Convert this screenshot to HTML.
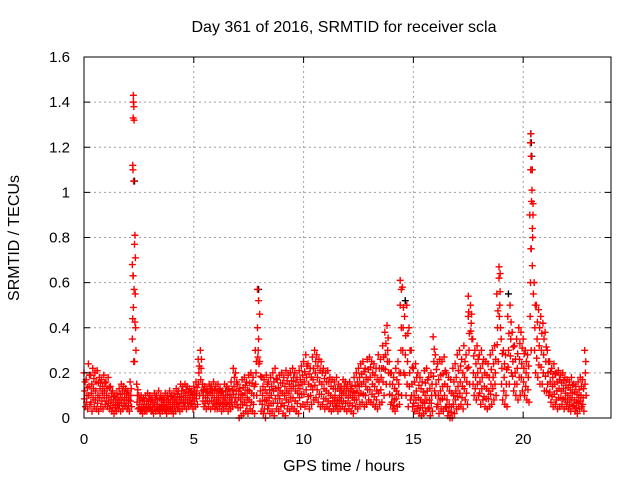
<!DOCTYPE html>
<html><head><meta charset="utf-8"><style>
body{margin:0;background:#fff;}
svg{display:block;font-family:"Liberation Sans",sans-serif;}
</style></head><body>
<svg id="chart" width="640" height="480">
<text x="344" y="32" font-size="16" text-anchor="middle" fill="#000">Day 361 of 2016, SRMTID for receiver scla</text>
<text x="0" y="0" font-size="16" text-anchor="middle" transform="translate(19,238) rotate(-90)">SRMTID / TECUs</text>
<text x="344" y="471" font-size="16" text-anchor="middle">GPS time / hours</text>
<g id="grid"></g><g id="pts"></g><g id="axes"></g>
</svg>
<script>
const xTicks=[0,5,10,15,20];
const yTicks=[0,0.2,0.4,0.6,0.8,1,1.2,1.4,1.6];
const yTickLabels=["0","0.2","0.4","0.6","0.8","1","1.2","1.4","1.6"];
const binStart=0, binStep=0.1;
const hiVals=[.20,.17,.24,.19,.22,.20,.21,.18,.17,.19,.16,.18,.14,.12,.10,.11,.13,.15,.14,.13,.12,.16,.35,.25,.15,.10,.10,.09,.10,.11,.10,.09,.11,.10,.12,.10,.09,.11,.10,.12,.10,.11,.13,.12,.15,.14,.15,.14,.13,.12,.14,.16,.26,.30,.15,.14,.13,.15,.14,.16,.14,.15,.13,.12,.15,.14,.13,.16,.22,.20,.15,.13,.17,.18,.16,.19,.20,.18,.30,.40,.25,.18,.17,.19,.16,.18,.20,.22,.17,.19,.20,.18,.21,.19,.20,.22,.20,.18,.21,.23,.25,.28,.24,.22,.27,.30,.28,.26,.25,.22,.20,.21,.18,.17,.16,.18,.15,.14,.17,.16,.15,.16,.14,.18,.20,.22,.24,.25,.22,.26,.27,.25,.24,.22,.28,.26,.32,.38,.41,.25,.20,.18,.22,.25,.50,.58,.45,.50,.40,.30,.22,.24,.20,.18,.16,.21,.22,.18,.20,.36,.28,.24,.26,.25,.27,.20,.18,.17,.22,.24,.28,.30,.26,.32,.28,.45,.50,.35,.30,.32,.28,.30,.26,.25,.24,.28,.30,.32,.55,.62,.35,.30,.28,.45,.50,.38,.32,.35,.40,.38,.35,.30,.28,.90,1.10,.60,.50,.48,.45,.42,.38,.30,.25,.22,.24,.20,.21,.19,.20,.18,.17,.16,.18,.15,.14,.16,.18,.17,.30];
const midVals=[.12,.10,.14,.11,.13,.12,.10,.13,.11,.12,.10,.09,.08,.07,.06,.07,.08,.09,.08,.09,.08,.10,.63,.55,.10,.06,.05,.06,.05,.06,.06,.05,.07,.06,.05,.06,.07,.05,.06,.07,.06,.07,.08,.07,.09,.08,.10,.09,.10,.09,.10,.11,.20,.22,.10,.09,.10,.11,.10,.09,.08,.09,.10,.08,.09,.10,.08,.09,.14,.12,.09,.08,.10,.11,.09,.12,.11,.10,.20,.30,.12,.10,.08,.11,.09,.10,.12,.13,.10,.12,.11,.10,.12,.11,.13,.14,.12,.11,.13,.15,.16,.18,.15,.14,.17,.20,.18,.16,.15,.13,.12,.11,.10,.09,.10,.08,.09,.10,.11,.10,.09,.10,.09,.11,.12,.14,.15,.16,.14,.17,.18,.15,.14,.12,.16,.18,.22,.28,.30,.15,.10,.08,.12,.15,.30,.40,.28,.25,.20,.15,.10,.12,.09,.08,.07,.10,.12,.08,.10,.25,.15,.10,.12,.14,.15,.08,.06,.05,.10,.12,.14,.16,.14,.18,.16,.30,.42,.20,.18,.20,.16,.18,.14,.13,.12,.15,.18,.20,.40,.50,.22,.18,.15,.30,.35,.25,.20,.22,.26,.24,.22,.20,.18,.60,.80,.40,.35,.32,.30,.28,.25,.20,.16,.14,.15,.12,.13,.12,.13,.11,.10,.09,.11,.08,.07,.09,.10,.09,.20];
const loVals=[.05,.04,.06,.03,.05,.04,.03,.05,.04,.06,.05,.04,.03,.02,.03,.04,.03,.04,.05,.04,.03,.05,.25,.30,.04,.03,.02,.03,.03,.04,.03,.02,.03,.04,.02,.03,.04,.02,.03,.03,.02,.03,.04,.03,.04,.05,.04,.05,.06,.04,.05,.06,.10,.12,.05,.04,.05,.04,.05,.04,.04,.05,.03,.04,.05,.03,.04,.05,.07,.06,.00,.01,.02,.03,.02,.04,.03,.02,.10,.24,.03,.02,.00,.04,.02,.03,.01,.04,.03,.05,.02,.01,.04,.03,.05,.04,.03,.02,.05,.06,.05,.07,.04,.06,.08,.09,.07,.05,.06,.04,.05,.04,.03,.04,.05,.03,.04,.05,.04,.03,.04,.03,.02,.05,.04,.06,.07,.05,.06,.08,.07,.06,.05,.04,.06,.07,.10,.15,.20,.06,.04,.03,.05,.06,.10,.20,.10,.05,.08,.05,.03,.04,.02,.01,.02,.03,.04,.01,.03,.12,.05,.02,.04,.03,.05,.01,.00,.00,.02,.04,.05,.06,.04,.08,.06,.15,.35,.10,.08,.10,.06,.08,.05,.04,.05,.06,.08,.10,.25,.40,.08,.06,.05,.15,.20,.12,.10,.08,.10,.12,.10,.08,.07,.30,.55,.20,.18,.15,.15,.12,.12,.10,.07,.05,.06,.04,.05,.06,.04,.05,.04,.03,.05,.03,.02,.04,.05,.03,.10];
const spikeTimes=[2.25,2.25,2.27,2.24,2.28,2.22,2.23,2.26,2.32,2.3,2.34,2.2,2.24,2.28,20.35,20.33,20.36,20.34,20.4,20.38,20.45,20.42,20.37,14.4,14.45,7.9,7.95,8.0,18.9,18.95,17.5,17.52];
const spikeVals=[1.43,1.40,1.38,1.33,1.32,1.12,1.10,1.05,0.81,0.77,0.71,0.68,0.63,0.57,1.26,1.22,1.16,1.10,1.01,0.96,0.90,0.84,0.75,0.61,0.57,0.57,0.52,0.46,0.67,0.64,0.54,0.47];
const blackTimes=[20.32,20.34,20.36,20.38,2.27,7.92,14.6,19.3];
const blackVals=[1.26,1.22,1.16,1.10,1.05,0.57,0.52,0.55];

const X0=84,X1=611,Y0=418,Y1=57;
const sx=t=>X0+(t-0)/24*(X1-X0);
const sy=v=>Y0-(v/1.6)*(Y0-Y1);
const NS="http://www.w3.org/2000/svg";
function mk(tag,attrs,parent){const e=document.createElementNS(NS,tag);for(const k in attrs)e.setAttribute(k,attrs[k]);parent.appendChild(e);return e;}
const grid=document.getElementById('grid'),pts=document.getElementById('pts'),axes=document.getElementById('axes');
xTicks.forEach(t=>{
  if(t>0){const g=mk('line',{x1:sx(t),x2:sx(t),y1:Y0,y2:Y1,stroke:'#a0a0a0','stroke-dasharray':'2,3'},grid);
  
  }
  const tk=mk('line',{x1:sx(t),x2:sx(t),y1:Y0,y2:Y0-6,stroke:'#000'},axes);
  
  
  const tk2=mk('line',{x1:sx(t),x2:sx(t),y1:Y1,y2:Y1+6,stroke:'#000'},axes);
  
  
  const l=mk('text',{x:sx(t),y:Y0+26,'font-size':15,'text-anchor':'middle'},axes);l.textContent=String(t);
  
  
});
yTicks.forEach((v,i)=>{
  if(v>0&&v<1.6){const g=mk('line',{x1:X0,x2:X1,y1:sy(v),y2:sy(v),stroke:'#a0a0a0','stroke-dasharray':'2,3'},grid);
  
  }
  const tk=mk('line',{x1:X0,x2:X0+6,y1:sy(v),y2:sy(v),stroke:'#000'},axes);
  
  
  const tk2=mk('line',{x1:X1,x2:X1-6,y1:sy(v),y2:sy(v),stroke:'#000'},axes);
  
  
  const l=mk('text',{x:X0-14,y:sy(v)+5,'font-size':15,'text-anchor':'end'},axes);l.textContent=yTickLabels[i];
  
  
});
const fr=mk('rect',{x:X0,y:Y1,width:X1-X0,height:Y0-Y1,fill:'none',stroke:'#000'},axes);


function plus(t,v,col,name){
  const x=sx(t),y=sy(v);
  const p=mk('path',{d:`M${x-3.5},${y}h7M${x},${y-3.5}v7`,stroke:col,'stroke-width':1.4,fill:'none'},pts);
  
  
}
blackTimes.forEach((t,i)=>plus(t+0.03,blackVals[i],'#000','black-point'));
hiVals.forEach((v,i)=>{
  const t=binStart+i*binStep;
  plus(t,hiVals[i],'#f00','srmtid-point');
  plus(t+0.033,midVals[i],'#f00','srmtid-point');
  plus(t+0.066,loVals[i],'#f00','srmtid-point');
  plus(t+0.05,(hiVals[i]+midVals[i])/2,'#f00','srmtid-point');
  plus(t+0.017,(midVals[i]+loVals[i])/2,'#f00','srmtid-point');
});
spikeTimes.forEach((t,i)=>plus(t,spikeVals[i],'#f00','spike-point'));
</script>
</body></html>
